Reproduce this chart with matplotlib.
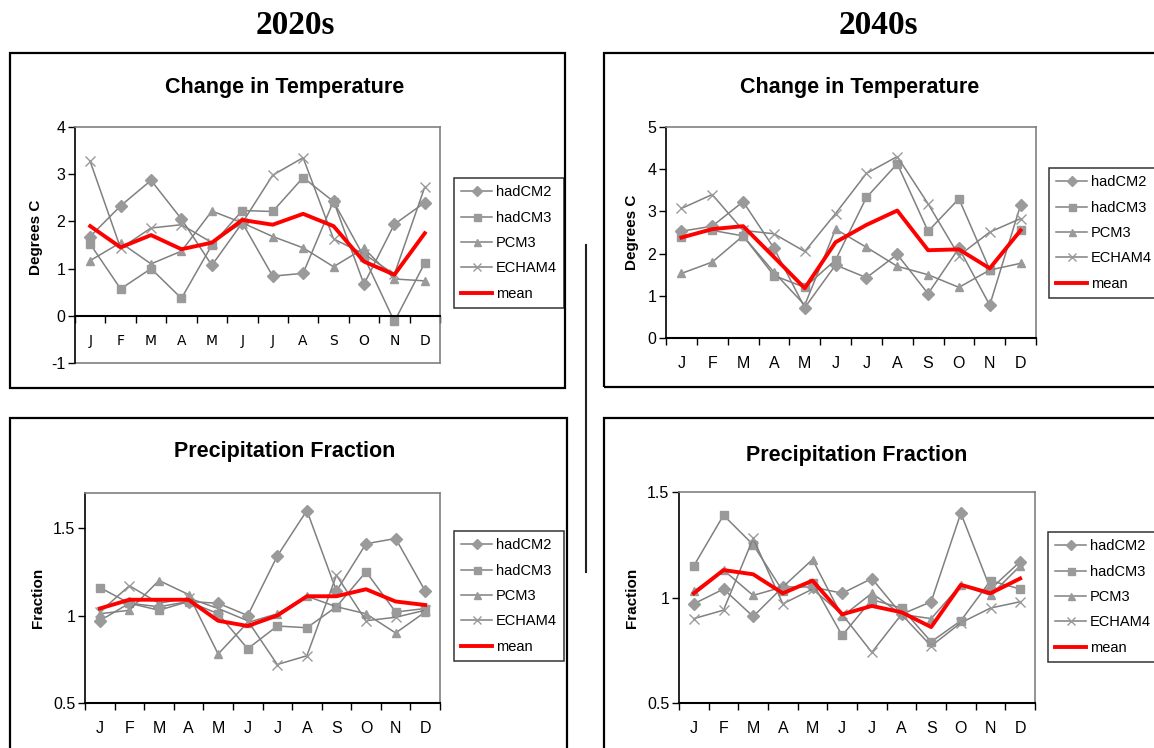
import matplotlib
matplotlib.use("Agg")
import matplotlib.pyplot as plt
from matplotlib.patches import Rectangle
from matplotlib.lines import Line2D

W, H = 1154, 748

months = ["J", "F", "M", "A", "M", "J", "J", "A", "S", "O", "N", "D"]
models = ["hadCM2", "hadCM3", "PCM3", "ECHAM4"]
markers = {"hadCM2": "D", "hadCM3": "s", "PCM3": "^", "ECHAM4": "x"}

# change in temperature, 2020s (deg C)
temp_2020 = {
    "hadCM2": [1.68, 2.33, 2.87, 2.05, 1.07, 1.97, 0.84, 0.90, 2.43, 0.67, 1.94, 2.40],
    "hadCM3": [1.52, 0.57, 1.00, 0.37, 1.50, 2.23, 2.21, 2.93, 2.42, 1.25, -0.12, 1.12],
    "PCM3":   [1.17, 1.55, 1.10, 1.37, 2.22, 1.97, 1.68, 1.44, 1.04, 1.43, 0.78, 0.74],
    "ECHAM4": [3.27, 1.43, 1.86, 1.93, 1.55, 1.97, 2.98, 3.35, 1.63, 1.31, 0.88, 2.73],
}
temp_2020_mean = [1.90, 1.45, 1.71, 1.41, 1.55, 2.03, 1.93, 2.16, 1.90, 1.15, 0.87, 1.75]

# change in temperature, 2040s (deg C)
temp_2040 = {
    "hadCM2": [2.53, 2.65, 3.23, 2.13, 0.72, 1.73, 1.43, 1.98, 1.05, 2.13, 0.78, 3.15],
    "hadCM3": [2.40, 2.55, 2.42, 1.48, 1.20, 1.85, 3.33, 4.13, 2.53, 3.30, 1.62, 2.57],
    "PCM3":   [1.53, 1.80, 2.42, 1.56, 0.78, 2.58, 2.15, 1.70, 1.50, 1.20, 1.61, 1.77],
    "ECHAM4": [3.07, 3.40, 2.55, 2.47, 2.05, 2.95, 3.90, 4.30, 3.18, 1.95, 2.51, 2.83],
}
temp_2040_mean = [2.38, 2.58, 2.65, 1.92, 1.18, 2.27, 2.68, 3.02, 2.08, 2.10, 1.65, 2.55]

# precipitation fraction, 2020s
prec_2020 = {
    "hadCM2": [0.97, 1.07, 1.05, 1.08, 1.07, 1.00, 1.34, 1.60, 1.14, 1.41, 1.44, 1.14],
    "hadCM3": [1.16, 1.07, 1.03, 1.08, 1.01, 0.81, 0.94, 0.93, 1.05, 1.25, 1.02, 1.04],
    "PCM3":   [1.01, 1.03, 1.20, 1.12, 0.78, 0.96, 1.01, 1.11, 1.05, 1.01, 0.90, 1.02],
    "ECHAM4": [1.02, 1.17, 1.07, 1.10, 1.04, 0.97, 0.72, 0.77, 1.23, 0.97, 0.99, 1.03],
}
prec_2020_mean = [1.04, 1.09, 1.09, 1.09, 0.97, 0.94, 1.00, 1.11, 1.11, 1.15, 1.08, 1.06]

# precipitation fraction, 2040s
prec_2040 = {
    "hadCM2": [0.97, 1.04, 0.91, 1.05, 1.05, 1.02, 1.09, 0.92, 0.98, 1.40, 1.04, 1.17],
    "hadCM3": [1.15, 1.39, 1.25, 1.03, 1.07, 0.82, 0.99, 0.95, 0.79, 0.89, 1.08, 1.04],
    "PCM3":   [1.03, 1.13, 1.01, 1.05, 1.18, 0.91, 1.02, 0.92, 0.90, 1.06, 1.01, 1.15],
    "ECHAM4": [0.90, 0.94, 1.28, 0.97, 1.04, 0.92, 0.74, 0.92, 0.77, 0.88, 0.95, 0.98],
}
prec_2040_mean = [1.02, 1.13, 1.11, 1.02, 1.08, 0.92, 0.96, 0.93, 0.86, 1.06, 1.02, 1.09]

GREY = "#808080"
MARK = "#9a9a9a"
SANS = "Liberation Sans"

fig = plt.figure(figsize=(W / 100, H / 100), dpi=100)


def px_axes(x0, y0, x1, y1):
    return fig.add_axes([x0 / W, 1 - y1 / H, (x1 - x0) / W, (y1 - y0) / H])


def frame(x0, y0, x1, y1):
    fig.patches.append(Rectangle((x0 / W, 1 - y1 / H), (x1 - x0) / W, (y1 - y0) / H,
                                 transform=fig.transFigure, fill=False,
                                 edgecolor="black", linewidth=1.6))


def fig_text(x, y, s, **kw):
    fig.text(x / W, 1 - y / H, s, ha="center", va="center", **kw)


def panel(box, data, mean, ylim, yticks, yticklabels, ylabel, ylabel_x, legend_box, axis_at=None):
    ax = px_axes(*box)
    pos = [i + 0.5 for i in range(len(months))]
    for m in models:
        ax.plot(pos, data[m], color=GREY, linewidth=1.1, marker=markers[m],
                markersize=6.3 if markers[m] != "x" else 7.0,
                markerfacecolor=MARK, markeredgecolor=MARK,
                markeredgewidth=1.0, label=m, clip_on=False)
    ax.plot(pos, mean, color="#ff0000", linewidth=2.8, label="mean", zorder=5)

    ax.set_xlim(0, 12)
    ax.set_ylim(*ylim)
    ax.set_xticks(range(13))
    ax.set_xticklabels([])
    ax.set_xticks(pos, minor=True)
    ax.set_xticklabels(months, minor=True, fontsize=11.5, family=SANS)
    ax.tick_params(axis="x", which="minor", length=0, pad=13)
    ax.tick_params(axis="x", which="major", length=5, width=1.0, direction="out")
    ax.set_yticks(yticks)
    ax.set_yticklabels(yticklabels, fontsize=11.5, family=SANS)
    ax.tick_params(axis="y", length=5, width=1.0, direction="out", pad=2)

    for s in ["top", "right"]:
        ax.spines[s].set_color(GREY)
        ax.spines[s].set_linewidth(1.2)
    ax.spines["left"].set_color("black")
    ax.spines["left"].set_linewidth(1.2)
    ax.spines["bottom"].set_color("black")
    ax.spines["bottom"].set_linewidth(1.5)
    if axis_at is not None:
        ax.spines["bottom"].set_position(("data", axis_at))
        ax.axhline(ylim[0], color=GREY, linewidth=1.2, clip_on=False)

    x0, y0, x1, y1 = box
    fig_text(ylabel_x, (y0 + y1) / 2 - (8 if axis_at is not None else 0),
             ylabel, rotation=90, fontsize=11, fontweight="bold", family=SANS)

    lx0, ly0, lx1, ly1 = legend_box
    leg = ax.legend(loc="upper left", bbox_to_anchor=(lx0 / W, 1 - ly0 / H),
                    bbox_transform=fig.transFigure, frameon=True, fancybox=False,
                    prop={"family": SANS, "size": 10.5}, handlelength=2.1,
                    handletextpad=0.25, labelspacing=0.78, borderpad=0.5,
                    borderaxespad=0, markerscale=0.8)
    leg.get_frame().set_edgecolor("black")
    leg.get_frame().set_linewidth(1.1)
    return ax


frame(10, 53, 565, 388)
frame(10, 418, 567, 760)
frame(604, 53, 1170, 387)
frame(604, 418, 1170, 760)

fig.add_artist(Line2D([585.5 / W, 585.5 / W], [1 - 245 / H, 1 - 572 / H],
                      transform=fig.transFigure, color="#222222", linewidth=1.5))

fig_text(295, 25, "2020s", fontsize=24, fontweight="bold", family="Liberation Serif")
fig_text(878, 25, "2040s", fontsize=24, fontweight="bold", family="Liberation Serif")

title_kw = dict(fontsize=15.5, fontweight="bold", family=SANS)
fig_text(285, 87, "Change in Temperature", **title_kw)
fig_text(860, 87, "Change in Temperature", **title_kw)
fig_text(285, 451, "Precipitation Fraction", **title_kw)
fig_text(857, 455, "Precipitation Fraction", **title_kw)

panel((75, 127, 440, 363), temp_2020, temp_2020_mean, (-1, 4), range(-1, 5),
      [str(v) for v in range(-1, 5)], "Degrees C", 36, (454, 178, 562, 307), axis_at=0)
panel((666, 127, 1036, 338), temp_2040, temp_2040_mean, (0, 5), range(0, 6),
      [str(v) for v in range(0, 6)], "Degrees C", 632, (1049, 168, 1160, 295))
panel((85, 493, 440, 703), prec_2020, prec_2020_mean, (0.5, 1.7), [0.5, 1.0, 1.5],
      ["0.5", "1", "1.5"], "Fraction", 38, (454, 531, 564, 661))
panel((679, 492, 1035, 703), prec_2040, prec_2040_mean, (0.5, 1.5), [0.5, 1.0, 1.5],
      ["0.5", "1", "1.5"], "Fraction", 632, (1048, 532, 1160, 660))

fig.savefig("out.png", dpi=100)
